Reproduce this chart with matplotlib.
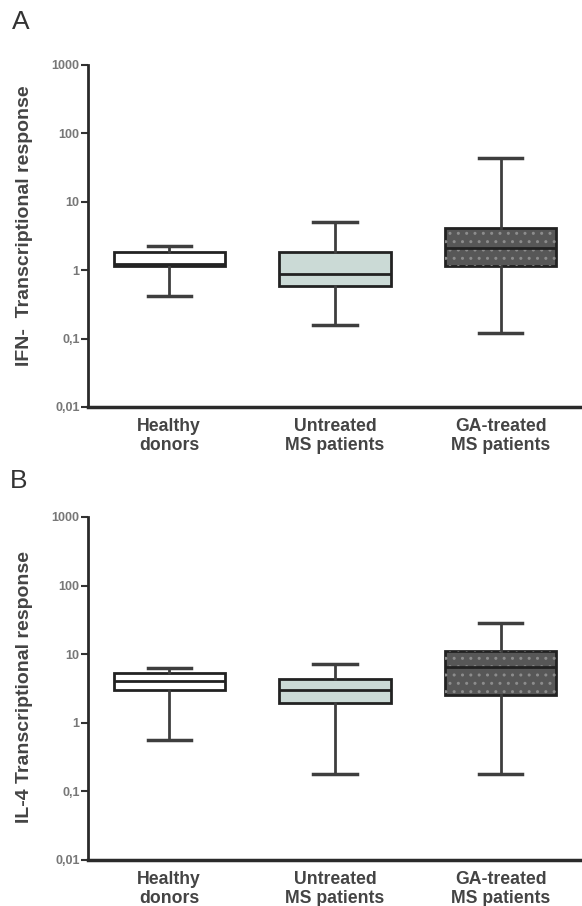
import matplotlib
matplotlib.use("Agg")
import matplotlib.pyplot as plt
from matplotlib.patches import PathPatch

plt.rcParams['font.family'] = ['Liberation Sans', 'DejaVu Sans']

categories = ["Healthy\ndonors", "Untreated\nMS patients", "GA-treated\nMS patients"]
box_colors = ["#ffffff", "#cbdad6", "#575757"]

# Panel A: IFN- transcriptional response (whisker low, q1, median, q3, whisker high)
ifn_low = [0.42, 0.16, 0.12]
ifn_q1 = [1.14, 0.58, 1.14]
ifn_med = [1.25, 0.87, 2.1]
ifn_q3 = [1.85, 1.83, 4.1]
ifn_high = [2.24, 5.0, 43.0]

# Panel B: IL-4 transcriptional response
il4_low = [0.57, 0.18, 0.177]
il4_q1 = [3.0, 1.95, 2.56]
il4_med = [4.05, 3.0, 6.4]
il4_q3 = [5.4, 4.3, 11.2]
il4_high = [6.2, 7.1, 28.0]

yticks = [0.01, 0.1, 1, 10, 100, 1000]
ytick_labels = ["0,01", "0,1", "1", "10", "100", "1000"]

fig = plt.figure(figsize=(5.82, 9.06), dpi=100)
axA = fig.add_axes([0.1512, 0.5508, 0.8488, 0.3775])
axB = fig.add_axes([0.1512, 0.0508, 0.8488, 0.3786])


def draw(ax, low, q1, med, q3, high, ylabel, label_y):
    stats = []
    for i in range(len(categories)):
        stats.append(dict(whislo=low[i], q1=q1[i], med=med[i], q3=q3[i],
                          whishi=high[i], fliers=[], label=categories[i]))
    bp = ax.bxp(stats, positions=range(len(categories)), widths=0.67,
                patch_artist=True, showfliers=False,
                boxprops=dict(linewidth=2, edgecolor="#222222"),
                medianprops=dict(color="#222222", linewidth=2),
                whiskerprops=dict(color="#3e3e3e", linewidth=2),
                capprops=dict(color="#3e3e3e", linewidth=2.5),
                capwidths=0.26)
    for patch, c in zip(bp["boxes"], box_colors):
        patch.set_facecolor(c)
    # dotted texture on GA box
    gp = bp["boxes"][2]
    tex = PathPatch(gp.get_path(), transform=gp.get_transform(),
                    facecolor="none", edgecolor="#8c8c8c", hatch="..",
                    linewidth=0, zorder=gp.get_zorder() + 0.1)
    ax.add_patch(tex)
    for m in bp["medians"]:
        m.set_zorder(gp.get_zorder() + 0.2)
    ax.set_yscale("log")
    ax.set_ylim(0.01, 1000)
    ax.set_xlim(-0.49, 2.49)
    ax.set_yticks(yticks)
    ax.set_yticklabels(ytick_labels)
    ax.minorticks_off()
    ax.tick_params(axis="y", length=5, width=1.5, color="#333333",
                   labelsize=9, labelcolor="#777777", pad=1)
    for t in ax.get_yticklabels():
        t.set_fontweight("bold")
    ax.tick_params(axis="x", length=0, labelsize=12.7, labelcolor="#444444", pad=8)
    for t in ax.get_xticklabels():
        t.set_fontweight("bold")
        t.set_linespacing(1.15)
    for s in ["top", "right"]:
        ax.spines[s].set_visible(False)
    ax.spines["left"].set_linewidth(2)
    ax.spines["left"].set_color("#2a2a2a")
    ax.spines["bottom"].set_linewidth(2.5)
    ax.spines["bottom"].set_color("#2a2a2a")
    ax.set_ylabel(ylabel, fontsize=14, fontweight="bold", color="#444444")
    ax.yaxis.set_label_coords(-0.112, label_y)


draw(axA, ifn_low, ifn_q1, ifn_med, ifn_q3, ifn_high, "IFN-  Transcriptional response", 0.53)
draw(axB, il4_low, il4_q1, il4_med, il4_q3, il4_high, "IL-4 Transcriptional response", 0.505)

fig.text(12 / 582, 1 - 22 / 906, "A", fontsize=19, color="#333333", va="center", ha="left")
fig.text(10 / 582, 1 - 481 / 906, "B", fontsize=19, color="#333333", va="center", ha="left")

fig.savefig("out.png", dpi=100)
